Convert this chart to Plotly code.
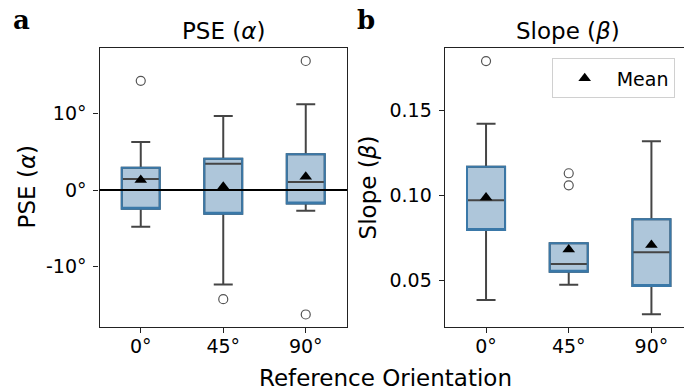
import plotly.graph_objects as go

categories = ["0°", "45°", "90°"]

# PSE (alpha) box statistics, degrees
pse_q1 = [-2.45, -3.1, -1.75]
pse_median = [1.45, 3.45, 1.05]
pse_q3 = [2.92, 4.1, 4.68]
pse_lower = [-4.8, -12.36, -2.7]
pse_upper = [6.29, 9.7, 11.23]
pse_mean = [1.3, 0.43, 1.74]
pse_out_x = ["0°", "45°", "90°", "90°"]
pse_out_y = [14.3, -14.3, 16.9, -16.3]

# Slope (beta) box statistics
slope_q1 = [0.0794, 0.0549, 0.0465]
slope_median = [0.0969, 0.0594, 0.0663]
slope_q3 = [0.1167, 0.0716, 0.0857]
slope_lower = [0.0382, 0.0472, 0.0298]
slope_upper = [0.142, 0.0716, 0.1316]
slope_mean = [0.0985, 0.0679, 0.0706]
slope_out_x = ["0°", "45°", "45°"]
slope_out_y = [0.1788, 0.1128, 0.1057]

pse_tickvals = [-10, 0, 10]
pse_ticktext = ["-10°", "0°", "10°"]
slope_tickvals = [0.05, 0.10, 0.15]
slope_ticktext = ["0.05", "0.10", "0.15"]

W, H = 684, 391
FONT = "DejaVu Sans"
FILL = "#aec6da"
EDGE = "#3a78a8"
GRAY = "#454545"
BOXW = 0.46

fig = go.Figure()


def add_panel(q1, med, q3, lo, hi, mean, ox, oy, xa, ya, show_leg):
    # gray whiskers + median + fill
    fig.add_trace(go.Box(
        x=categories, q1=q1, median=med, q3=q3, lowerfence=lo, upperfence=hi,
        fillcolor=FILL, line=dict(color=GRAY, width=2), whiskerwidth=0.5,
        width=BOXW, boxpoints=False, showlegend=False, xaxis=xa, yaxis=ya,
        hoverinfo="skip"))
    # blue outline of the box
    fig.add_trace(go.Box(
        x=categories, q1=q1, median=q1, q3=q3, lowerfence=q1, upperfence=q3,
        fillcolor="rgba(0,0,0,0)", line=dict(color=EDGE, width=2),
        whiskerwidth=0, width=BOXW, boxpoints=False, showlegend=False,
        xaxis=xa, yaxis=ya, hoverinfo="skip"))
    # outliers
    fig.add_trace(go.Scatter(
        x=ox, y=oy, mode="markers", showlegend=False, xaxis=xa, yaxis=ya,
        marker=dict(symbol="circle-open", size=9, color="#555555",
                    line=dict(width=1.2, color="#555555")),
        hoverinfo="skip"))
    # means
    fig.add_trace(go.Scatter(
        x=categories, y=mean, mode="markers", name="Mean",
        showlegend=show_leg, xaxis=xa, yaxis=ya,
        marker=dict(symbol="triangle-up", size=11, color="black"),
        hoverinfo="skip"))


add_panel(pse_q1, pse_median, pse_q3, pse_lower, pse_upper, pse_mean,
          pse_out_x, pse_out_y, "x", "y", False)
add_panel(slope_q1, slope_median, slope_q3, slope_lower, slope_upper,
          slope_mean, slope_out_x, slope_out_y, "x2", "y2", True)

ydom = [1 - 326.7 / H, 1 - 48 / H]
axis_common = dict(showline=True, linecolor="#222222", linewidth=1.3,
                   ticks="outside", ticklen=5, tickwidth=1.2,
                   tickcolor="#222222", showgrid=False, zeroline=False,
                   tickfont=dict(family=FONT, size=19, color="black"))

fig.update_layout(
    width=W, height=H,
    margin=dict(l=0, r=0, t=0, b=0),
    paper_bgcolor="white", plot_bgcolor="white",
    boxmode="overlay",
    xaxis=dict(domain=[99.5 / W, 347 / W], anchor="y", type="category",
               categoryorder="array", categoryarray=categories,
               range=[-0.5, 2.5], mirror=True, ticklabelstandoff=-3,
               **axis_common),
    yaxis=dict(domain=ydom, anchor="x", range=[-17.9, 18.6],
               tickvals=pse_tickvals, ticktext=pse_ticktext, mirror=True,
               ticklabelstandoff=3, **axis_common),
    xaxis2=dict(domain=[444.7 / W, 1.0], anchor="y2", type="category",
                categoryorder="array", categoryarray=categories,
                range=[-0.5, 2.394], mirror=True, ticklabelstandoff=-3,
                **axis_common),
    yaxis2=dict(domain=ydom, anchor="x2", range=[0.02253, 0.1865],
                tickvals=slope_tickvals, ticktext=slope_ticktext,
                mirror=False, ticklabelstandoff=3, **axis_common),
    legend=dict(x=551.7 / W, y=1 - 58.3 / H, xanchor="left", yanchor="top",
                bgcolor="white", bordercolor="#d0d0d0", borderwidth=1,
                font=dict(family=FONT, size=19, color="black"),
                itemwidth=54),
    shapes=[dict(type="line", xref="x domain", x0=0, x1=1, yref="y",
                 y0=0, y1=0, line=dict(color="black", width=1.8),
                 layer="above")],
)


def ann(text, x, y, size, angle=0, family=FONT, bold=False):
    if bold:
        text = "<b>" + text + "</b>"
    fig.add_annotation(text=text, x=x / W, y=1 - y / H, xref="paper",
                       yref="paper", xanchor="center", yanchor="middle",
                       showarrow=False, textangle=angle,
                       font=dict(family=family, size=size, color="black"))


ann("PSE (<i>α</i>)", 223.3, 31, 23)
ann("Slope (<i>β</i>)", 568, 31, 23)
ann("PSE (<i>α</i>)", 27, 187.4, 23, angle=-90)
ann("Slope (<i>β</i>)", 368, 187.4, 23, angle=-90)
ann("Reference Orientation", 385.5, 378, 23)
ann("a", 21, 19.5, 26, family="DejaVu Serif", bold=True)
ann("b", 366, 19.5, 26, family="DejaVu Serif", bold=True)

fig.write_html(
    "out.html",
    config={"displayModeBar": False},
    post_script="document.body.style.margin='0';"
                "document.body.style.overflow='hidden';")
